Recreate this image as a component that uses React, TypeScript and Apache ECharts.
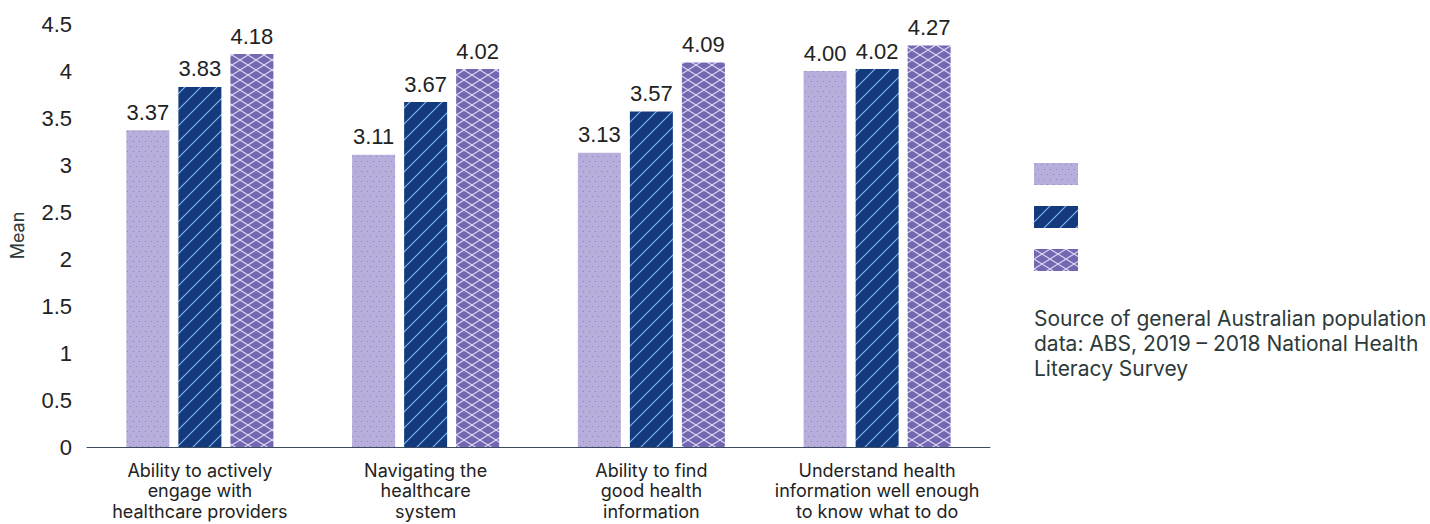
import React, { useEffect, useRef } from "react";
import * as echarts from "echarts";

const categories = [
  "Ability to actively\nengage with\nhealthcare providers",
  "Navigating the\nhealthcare\nsystem",
  "Ability to find\ngood health\ninformation",
  "Understand health\ninformation well enough\nto know what to do",
];
const seriesNames = ["Group A", "Group B", "General population"];
const valuesA = [3.37, 3.11, 3.13, 4.0];
const valuesB = [3.83, 3.67, 3.57, 4.02];
const valuesC = [4.18, 4.02, 4.09, 4.27];
const yTicks = [0, 0.5, 1, 1.5, 2, 2.5, 3, 3.5, 4, 4.5];
const sourceNote =
  "Source of general Australian population\ndata: ABS, 2019 – 2018 National Health\nLiteracy Survey";

function makeTile(w: number, h: number, draw: (ctx: CanvasRenderingContext2D) => void) {
  const c = document.createElement("canvas");
  c.width = w;
  c.height = h;
  const ctx = c.getContext("2d")!;
  draw(ctx);
  return c;
}

function dotPattern() {
  return makeTile(12, 10, (ctx) => {
    ctx.fillStyle = "#b8aedb";
    ctx.fillRect(0, 0, 12, 10);
    ctx.fillStyle = "#8c7fc0";
    ctx.fillRect(1, 1, 1, 1);
    ctx.fillRect(7, 1, 1, 1);
    ctx.fillRect(4, 6, 1, 1);
    ctx.fillRect(10, 6, 1, 1);
  });
}

function stripePattern() {
  return makeTile(16, 16, (ctx) => {
    ctx.fillStyle = "#143a7d";
    ctx.fillRect(0, 0, 16, 16);
    ctx.strokeStyle = "#7cb8ee";
    ctx.lineWidth = 1.2;
    ctx.beginPath();
    ctx.moveTo(-2, 18);
    ctx.lineTo(18, -2);
    ctx.moveTo(-2 - 16, 18);
    ctx.lineTo(18 - 16, -2);
    ctx.moveTo(-2 + 16, 18);
    ctx.lineTo(18 + 16, -2);
    ctx.stroke();
  });
}

function crossPattern() {
  return makeTile(16, 10, (ctx) => {
    ctx.fillStyle = "#7268b2";
    ctx.fillRect(0, 0, 16, 10);
    ctx.strokeStyle = "#ddd6f2";
    ctx.lineWidth = 1.1;
    ctx.beginPath();
    ctx.moveTo(0, 0);
    ctx.lineTo(16, 10);
    ctx.moveTo(0, 10);
    ctx.lineTo(16, 0);
    ctx.stroke();
  });
}

export default function App() {
  const ref = useRef<HTMLDivElement>(null);

  useEffect(() => {
    if (!ref.current) return;
    const chart = echarts.init(ref.current, undefined, { renderer: "svg" });
    const fills = [
      { image: dotPattern(), repeat: "repeat" },
      { image: stripePattern(), repeat: "repeat" },
      { image: crossPattern(), repeat: "repeat" },
    ];
    const data = [valuesA, valuesB, valuesC];

    chart.setOption({
      animation: false,
      backgroundColor: "#ffffff",
      grid: {
        left: 87,
        right: 440,
        top: 24,
        bottom: 77,
        containLabel: false,
        outerBoundsMode: "none",
      },
      legend: {
        orient: "vertical",
        left: 1034,
        top: 163,
        padding: 0,
        itemWidth: 44,
        itemHeight: 22,
        itemGap: 21,
        icon: "rect",
        formatter: () => "",
        data: seriesNames,
        selectedMode: false,
      },
      xAxis: {
        type: "category",
        data: categories,
        axisLine: { lineStyle: { color: "#3b4b60", width: 1 } },
        axisTick: { show: false },
        axisLabel: {
          interval: 0,
          margin: 13,
          fontFamily: "Inter, 'Noto Sans', sans-serif",
          fontSize: 18,
          lineHeight: 20.5,
          color: "#222222",
        },
      },
      yAxis: {
        type: "value",
        min: yTicks[0],
        max: yTicks[yTicks.length - 1],
        interval: 0.5,
        name: "Mean",
        nameLocation: "middle",
        nameGap: 61,
        nameTextStyle: {
          fontFamily: "Inter, 'Noto Sans', sans-serif",
          fontSize: 18,
          color: "#2d3a3a",
        },
        axisLine: { show: false },
        axisTick: { show: false },
        splitLine: { show: false },
        axisLabel: {
          margin: 15,
          fontFamily: "'Liberation Sans', Arial, sans-serif",
          fontSize: 22,
          color: "#222222",
        },
      },
      series: seriesNames.map((name, i) => ({
        name,
        type: "bar",
        data: data[i],
        barWidth: 43,
        barGap: "21%",
        itemStyle: { color: fills[i] },
        label: {
          show: true,
          position: "top",
          distance: 7,
          formatter: (p: any) => Number(p.value).toFixed(2),
          fontFamily: "'Liberation Sans', Arial, sans-serif",
          fontSize: 22,
          color: "#222222",
        },
      })),
      graphic: [
        {
          type: "text",
          left: 1034,
          top: 306,
          style: {
            text: sourceNote,
            fontFamily: "Inter, 'Noto Sans', sans-serif",
            fontSize: 21,
            lineHeight: 25,
            fill: "#2d3a3a",
          },
        },
      ],
    });

    return () => chart.dispose();
  }, []);

  return (
    <div
      ref={ref}
      style={{ position: "fixed", left: 0, top: 0, width: 1430, height: 524 }}
    />
  );
}
